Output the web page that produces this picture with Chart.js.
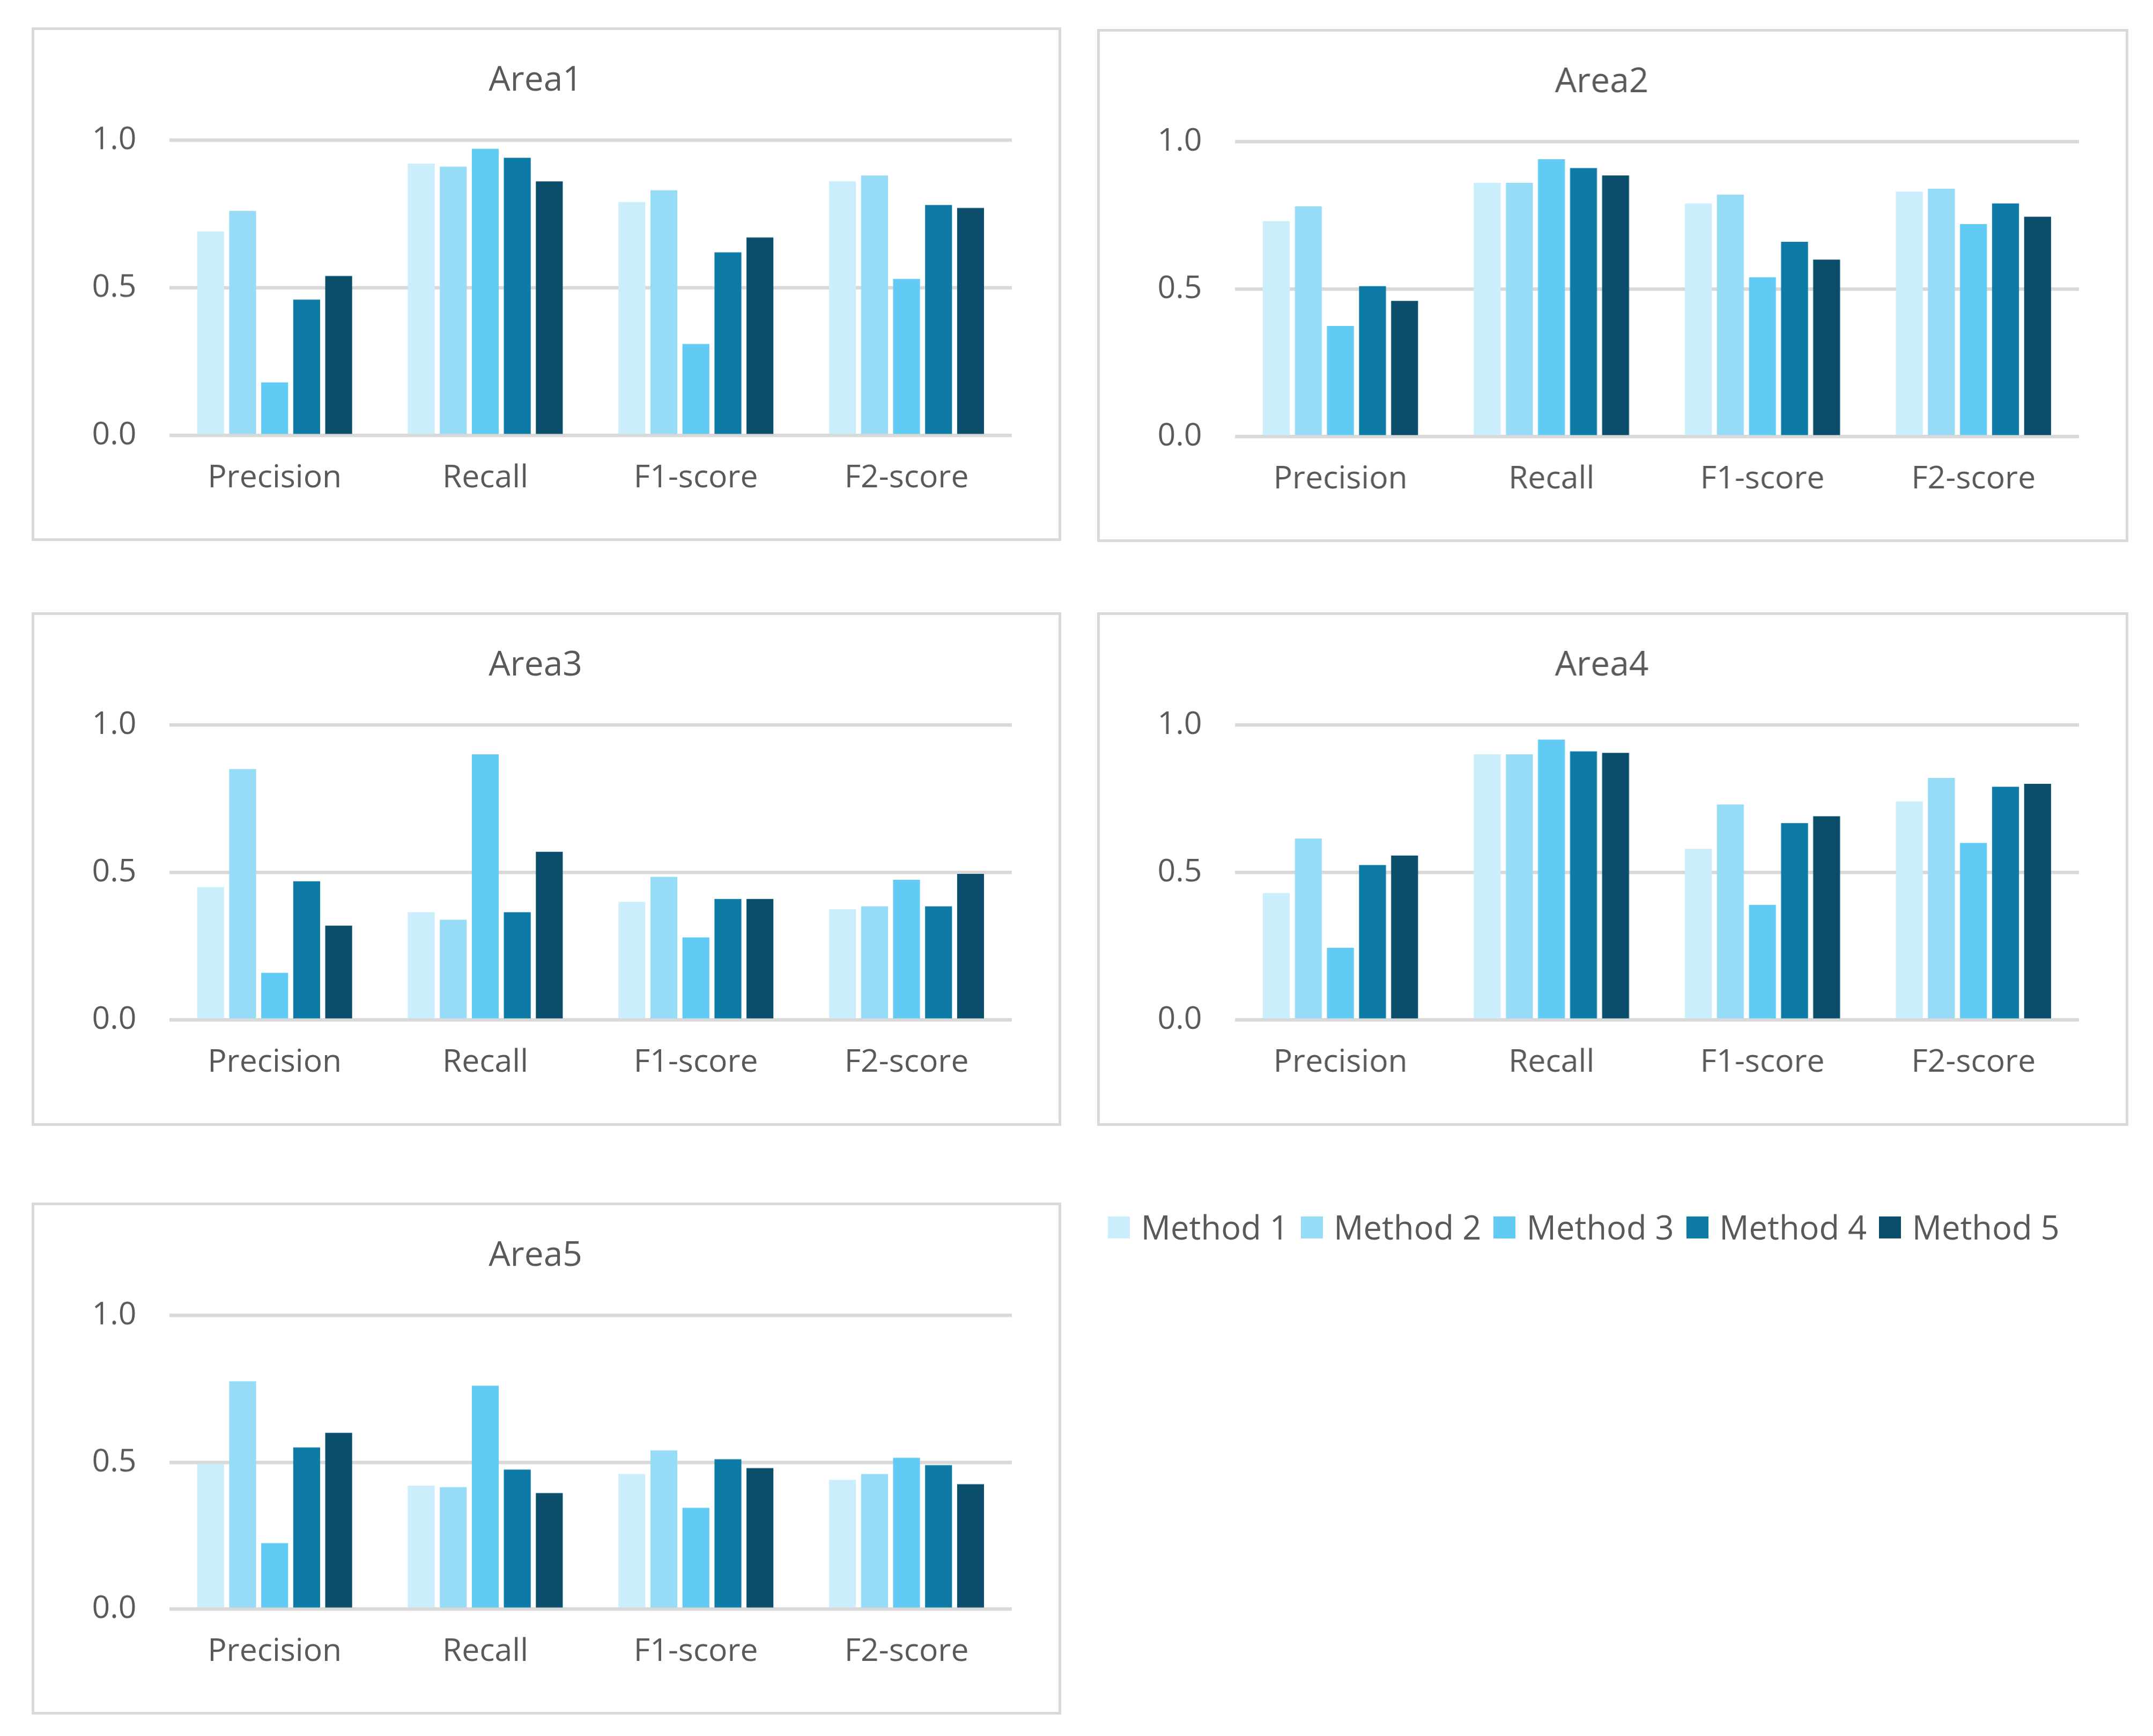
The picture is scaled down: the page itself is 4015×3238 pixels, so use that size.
<!DOCTYPE html>
<html lang="en">
<head>
<meta charset="UTF-8">
<title>Areas</title>
<script src="https://cdn.jsdelivr.net/npm/chart.js"></script>
<style>
  html, body { margin: 0; background: #fff; overflow: hidden; }
  .panel { position: absolute; box-sizing: border-box; border: solid #d9d9d9; background: #fff; }
  .panel canvas { position: absolute; left: 0; top: 0; }
  #legend { position: absolute; display: flex; font-family: "Open Sans", "Noto Sans", sans-serif; color: #595959; white-space: nowrap; }
  #legend span.sw { display: inline-block; }
</style>
</head>
<body>
<div id="legend"></div>
<script>
const metrics = ['Precision', 'Recall', 'F1-score', 'F2-score'];
const methods = ['Method 1', 'Method 2', 'Method 3', 'Method 4', 'Method 5'];
const colors = ['#caeefb', '#97dcf7', '#61cbf3', '#0e7ba6', '#0a4e6b'];
const areaNames = ['Area1', 'Area2', 'Area3', 'Area4', 'Area5'];
const yTicks = [0, 0.5, 1.0];

// values per area: one row per method, columns = Precision, Recall, F1, F2
const area1 = [
  [0.69, 0.92, 0.79, 0.86],
  [0.76, 0.91, 0.83, 0.88],
  [0.18, 0.97, 0.31, 0.53],
  [0.46, 0.94, 0.62, 0.78],
  [0.54, 0.86, 0.67, 0.77]
];
const area2 = [
  [0.73, 0.86, 0.79, 0.83],
  [0.78, 0.86, 0.82, 0.84],
  [0.375, 0.94, 0.54, 0.72],
  [0.51, 0.91, 0.66, 0.79],
  [0.46, 0.885, 0.60, 0.745]
];
const area3 = [
  [0.45, 0.365, 0.40, 0.375],
  [0.85, 0.34, 0.485, 0.385],
  [0.16, 0.90, 0.28, 0.475],
  [0.47, 0.365, 0.41, 0.385],
  [0.32, 0.57, 0.41, 0.495]
];
const area4 = [
  [0.43, 0.90, 0.58, 0.74],
  [0.615, 0.90, 0.73, 0.82],
  [0.245, 0.95, 0.39, 0.60],
  [0.525, 0.91, 0.667, 0.79],
  [0.557, 0.905, 0.69, 0.80]
];
const area5 = [
  [0.495, 0.42, 0.46, 0.44],
  [0.775, 0.415, 0.54, 0.46],
  [0.225, 0.76, 0.345, 0.515],
  [0.55, 0.475, 0.51, 0.49],
  [0.60, 0.395, 0.48, 0.425]
];
const areas = [area1, area2, area3, area4, area5];

// panel boxes in a 1568-wide design space
const boxes = [
  [23, 20, 750, 374],
  [799, 21, 751, 374],
  [23, 446, 750, 374],
  [799, 446, 751, 374],
  [23, 876, 750, 373]
];

const S = window.innerWidth / 1568;
const FONT = '"Open Sans", "Noto Sans", sans-serif';

areas.forEach((vals, i) => {
  const [x, y, w, h] = boxes[i];
  const div = document.createElement('div');
  div.className = 'panel';
  div.style.left = x * S + 'px';
  div.style.top = y * S + 'px';
  div.style.width = w * S + 'px';
  div.style.height = h * S + 'px';
  div.style.borderWidth = 2 * S + 'px';
  const cv = document.createElement('canvas');
  div.appendChild(cv);
  document.body.appendChild(div);
  cv.width = (w - 4) * S;
  cv.height = (h - 4) * S;
  cv.style.width = (w - 4) * S + 'px';
  cv.style.height = (h - 4) * S + 'px';

  new Chart(cv, {
    type: 'bar',
    data: {
      labels: metrics,
      datasets: methods.map((m, k) => ({
        label: m,
        data: vals[k],
        backgroundColor: colors[k],
        categoryPercentage: 0.76,
        barPercentage: 0.84
      }))
    },
    options: {
      responsive: false,
      animation: false,
      devicePixelRatio: 1,
      layout: { padding: { left: 18 * S, right: 34 * S, top: 22 * S, bottom: 16 * S } },
      plugins: {
        legend: { display: false },
        tooltip: { enabled: false },
        title: {
          display: true,
          text: areaNames[i],
          color: '#595959',
          font: { family: FONT, size: 25 * S, weight: 'normal' },
          padding: { top: 0, bottom: 28 * S }
        }
      },
      scales: {
        x: {
          grid: { display: false },
          border: { display: false },
          ticks: { color: '#595959', font: { family: FONT, size: 23 * S }, padding: 14 * S }
        },
        y: {
          min: 0, max: 1,
          afterBuildTicks: ax => { ax.ticks = yTicks.map(v => ({ value: v })); },
          grid: { color: '#d9d9d9', lineWidth: 2.5 * S, drawTicks: false },
          border: { display: false },
          ticks: {
            color: '#595959',
            font: { family: FONT, size: 23 * S },
            padding: 24 * S,
            callback: v => Number(v).toFixed(1)
          }
        }
      }
    }
  });
});

// legend
const leg = document.getElementById('legend');
leg.style.left = 807 * S + 'px';
leg.style.top = 878 * S + 'px';
leg.style.fontSize = 24 * S + 'px';
leg.style.lineHeight = 32 * S + 'px';
methods.forEach((m, k) => {
  const item = document.createElement('div');
  item.style.marginRight = 9 * S + 'px';
  item.style.display = 'flex';
  item.style.alignItems = 'center';
  const sw = document.createElement('span');
  sw.className = 'sw';
  sw.style.width = 16 * S + 'px';
  sw.style.height = 16 * S + 'px';
  sw.style.background = colors[k];
  sw.style.marginRight = 8 * S + 'px';
  item.appendChild(sw);
  item.appendChild(document.createTextNode(m));
  leg.appendChild(item);
});
</script>
</body>
</html>
